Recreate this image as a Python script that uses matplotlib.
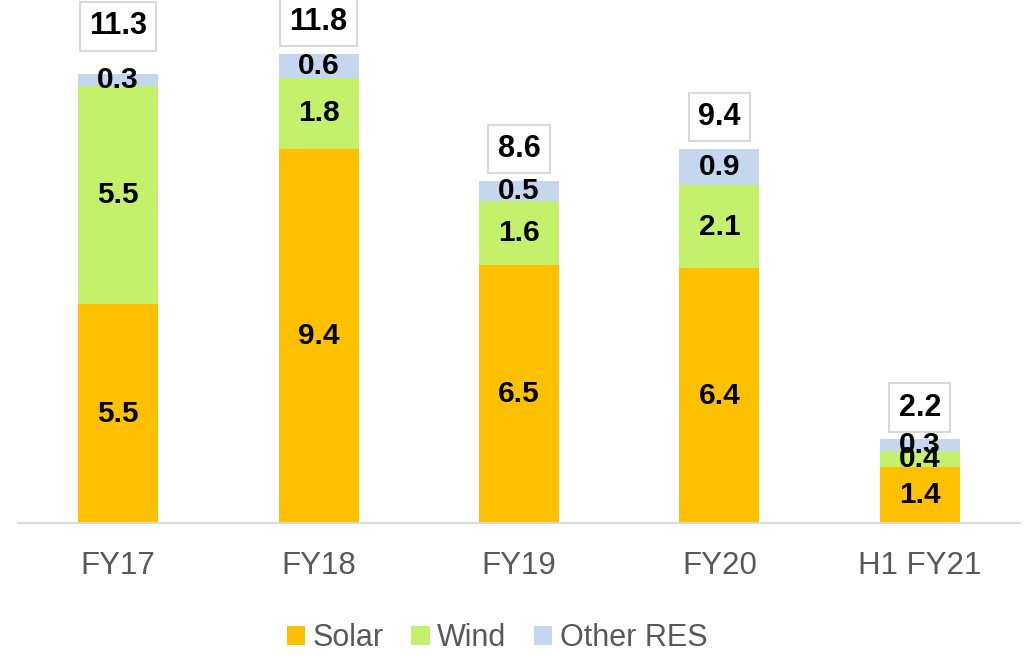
import matplotlib
matplotlib.use("Agg")
import matplotlib.pyplot as plt
import numpy as np

categories = ["FY17", "FY18", "FY19", "FY20", "H1 FY21"]
solar = [5.5, 9.4, 6.5, 6.4, 1.4]
wind = [5.5, 1.8, 1.6, 2.1, 0.4]
other = [0.3, 0.6, 0.5, 0.9, 0.3]
totals = [11.3, 11.8, 8.6, 9.4, 2.2]

plt.rcParams['font.family'] = ['Liberation Sans', 'DejaVu Sans']

fig = plt.figure(figsize=(10.25, 6.57), dpi=100)
ax = fig.add_axes([18/1025, 134/657, 1002/1025, 517/657])

x = np.arange(len(categories))
w = 0.4
colors = ["#FFC000", "#C4F06C", "#C5D7EF"]
names = ["Solar", "Wind", "Other RES"]
bottom = np.zeros(len(categories))
for vals, c, n in zip([solar, wind, other], colors, names):
    vals = np.array(vals)
    ax.bar(x, vals, w, bottom=bottom, color=c, label=n, edgecolor='none')
    for xi, b, v in zip(x, bottom, vals):
        ax.text(xi, b + v / 2, f"{v:.1f}", ha='center', va='center',
                fontsize=21.5, fontweight='bold', color='black')
    bottom = bottom + vals

for i, (xi, top, t) in enumerate(zip(x, bottom, totals)):
    off = 34 if i == 0 else 23
    ax.annotate(f"{t:.1f}", xy=(xi, top), xytext=(0, off), textcoords='offset points',
                ha='center', va='center', fontsize=22, fontweight='bold', color='black',
                bbox=dict(boxstyle='square,pad=0.3', facecolor='white', edgecolor='#D9D9D9', linewidth=1.5))

ax.set_xlim(-0.5, 4.5)
ax.set_ylim(0, 13)
ax.set_xticks(x)
ax.set_xticklabels(categories, fontsize=22.5, color='#595959')
ax.tick_params(axis='x', length=0, pad=20)
ax.set_yticks([])
for s in ['top', 'right', 'left']:
    ax.spines[s].set_visible(False)
ax.spines['bottom'].set_color('#D9D9D9')
ax.spines['bottom'].set_linewidth(1.5)

leg = fig.legend(loc='lower center', bbox_to_anchor=(0.485, -0.036), ncol=3, frameon=False,
                 fontsize=22, handlelength=0.6, handleheight=0.6, handletextpad=0.25,
                 columnspacing=0.9)
for t in leg.get_texts():
    t.set_color('#595959')

fig.savefig("out.png", dpi=100)
